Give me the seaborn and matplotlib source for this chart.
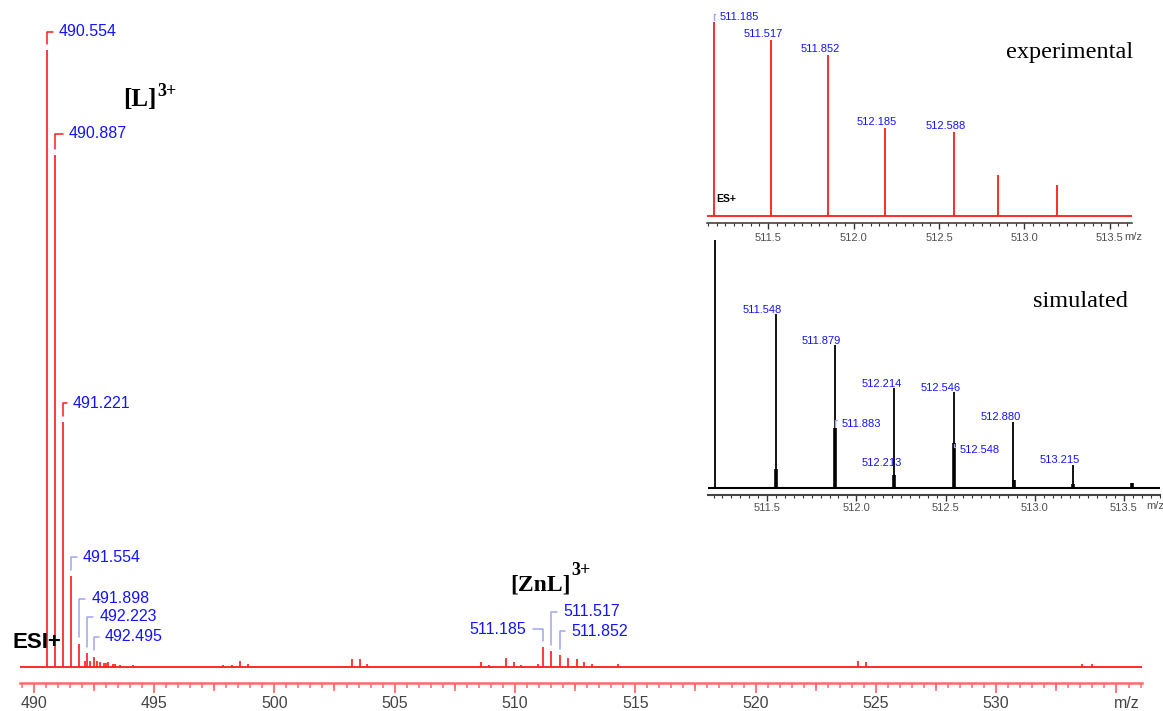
import matplotlib
matplotlib.use("Agg")
import matplotlib.pyplot as plt
from matplotlib.ticker import MultipleLocator
import seaborn as sns

W, H = 1163, 711

# ---- main ESI+ spectrum (m/z, relative intensity %) ----
main_mz = [490.554, 490.887, 491.221, 491.554, 491.898, 492.223, 492.495,
           492.13, 492.34, 492.64, 492.76, 492.92, 493.00, 493.10, 493.31,
           493.38, 493.59, 494.14, 497.88, 498.23, 498.57, 498.92,
           503.23, 503.56, 503.85, 508.58, 508.92, 509.63, 509.96, 510.25,
           510.95, 511.185, 511.517, 511.852, 512.185, 512.588, 512.85,
           513.19, 514.28, 524.25, 524.58, 533.57, 533.99]
main_int = [100, 83.0, 39.7, 14.7, 3.8, 2.3, 1.7,
            0.9, 0.9, 0.9, 0.8, 0.7, 0.7, 0.8, 0.45,
            0.45, 0.3, 0.3, 0.3, 0.3, 0.9, 0.5,
            1.3, 1.3, 0.5, 0.8, 0.3, 1.45, 0.8, 0.3,
            0.5, 3.2, 2.6, 1.9, 1.45, 1.3, 0.8,
            0.5, 0.5, 1.0, 0.8, 0.5, 0.5]
main_ticks = [490, 495, 500, 505, 510, 515, 520, 525, 530, 535]
main_ticklabels = ["490", "495", "500", "505", "510", "515", "520", "525", "530", ""]

# labelled peaks
main_labels = ["490.554", "490.887", "491.221", "491.554", "491.898", "492.223",
               "492.495", "511.185", "511.517", "511.852"]
main_label_mz = [490.554, 490.887, 491.221, 491.554, 491.898, 492.223, 492.495,
                 511.185, 511.517, 511.852]
main_label_int = [100, 83.0, 39.7, 14.7, 3.8, 2.3, 1.7, 3.2, 2.6, 1.9]
main_label_dx = [12, 14, 10, 12, 12, 12, 11, -17, 12, 12]
main_label_dy = [18, 21, 19, 19, 45, 36, 20, 18, 39, 24]

# ---- inset: experimental ----
exp_mz = [511.185, 511.517, 511.852, 512.185, 512.588, 512.845, 513.19]
exp_int = [100, 90.7, 83.0, 45.4, 43.3, 21.1, 16.0]
exp_labels = ["511.185", "511.517", "511.852", "512.185", "512.588"]

# ---- inset: simulated ----
sim_mz = [511.209, 511.548, 511.879, 512.214, 512.546, 512.880, 513.215]
sim_int = [100, 70.2, 57.7, 40.3, 38.7, 26.6, 9.3]
sim_sub_mz = [511.550, 511.883, 512.213, 512.548, 512.882, 513.217, 513.547]
sim_sub_int = [7.7, 24.2, 5.2, 18.1, 3.2, 1.5, 2.0]
sim_labels = ["511.548", "511.879", "512.214", "512.546", "512.880", "513.215"]
sim_sub_labels = ["511.883", "512.213", "512.548"]

inset_ticks = [511.5, 512.0, 512.5, 513.0, 513.5]
inset_ticklabels = ["511.5", "512.0", "512.5", "513.0", "513.5"]

RED = "#ff1a1a"
AXRED = "#ff6b6b"
BLUE = "#1414ff"
LAV = "#a0a6ee"

sns.set_theme(style="white")
plt.rcParams["font.family"] = ["Liberation Sans", "DejaVu Sans"]
plt.rcParams["text.color"] = "black"

fig = plt.figure(figsize=(W / 100, H / 100), dpi=100)


def box(l, t, r, b):
    return [l / W, 1 - b / H, (r - l) / W, (b - t) / H]


def ftext(x, y, s, **kw):
    fig.text(x / W, 1 - y / H, s, **kw)


# ================= main spectrum =================
ax = fig.add_axes(box(20, 0, 1142, 682.5))
ax.set_facecolor("none")
ax.vlines(main_mz, 0, main_int, color=RED, lw=1.2)
ax.axhline(0, color=RED, lw=1.3)
ax.set_xlim(489.43, 536.06)
ax.set_ylim(-2.51, 108.1)
sns.despine(ax=ax, left=True)
ax.spines["bottom"].set_color(AXRED)
ax.spines["bottom"].set_linewidth(1.8)
ax.set_yticks([])
ax.set_xticks(main_ticks, labels=main_ticklabels)
ax.xaxis.set_minor_locator(MultipleLocator(0.5))
ax.tick_params(axis="x", which="major", bottom=True, length=7, width=1.3,
               color=AXRED, labelsize=11.5, labelcolor="#444444", pad=3)
ax.tick_params(axis="x", which="minor", bottom=True, length=3.8, width=1.1,
               color=AXRED)
mid = ax.secondary_xaxis("bottom")
mid.set_xticks([492.5 + 5 * i for i in range(9)], labels=[""] * 9)
mid.spines["bottom"].set_visible(False)
mid.tick_params(axis="x", length=5.5, width=1.2, color=AXRED)

for i, lab in enumerate(main_labels):
    left = main_label_dx[i] > 0
    ccol = RED if i < 3 else LAV
    ax.annotate(lab, xy=(main_label_mz[i], main_label_int[i]),
                xytext=(main_label_dx[i], main_label_dy[i]),
                textcoords="offset pixels", ha="left" if left else "right",
                va="center", color=BLUE, fontsize=11.5,
                arrowprops=dict(arrowstyle="-", color=ccol, lw=1.1,
                                shrinkA=2, shrinkB=4.5,
                                relpos=(0, 0.5) if left else (1, 0.5),
                                connectionstyle="angle,angleA=0,angleB=90,rad=0"))

ftext(13, 642, "ESI+", fontsize=16, fontweight="bold", color="black",
      va="center", ha="left")
ftext(123, 106, "[L]", family="Liberation Serif", fontweight="bold",
      fontsize=18, va="baseline", ha="left", color="black")
ftext(157, 96, "3+", family="Liberation Serif", fontweight="bold",
      fontsize=13, va="baseline", ha="left", color="black")
ftext(510, 591, "[ZnL]", family="Liberation Serif", fontweight="bold",
      fontsize=17, va="baseline", ha="left", color="black")
ftext(571, 575, "3+", family="Liberation Serif", fontweight="bold",
      fontsize=13, va="baseline", ha="left", color="black")
ftext(1127, 703, "m/z", fontsize=11.5, color="#444444", ha="center", va="center")

# ================= inset: experimental =================
ax1 = fig.add_axes(box(707, 10, 1132, 223))
ax1.set_facecolor("none")
ax1.vlines(exp_mz, 0, exp_int, color=RED, lw=1.3)
ax1.axhline(0, color=RED, lw=1.3)
ax1.set_xlim(511.143, 513.629)
ax1.set_ylim(-3.61, 106.2)
sns.despine(ax=ax1, left=True)
ax1.spines["bottom"].set_color("#333333")
ax1.spines["bottom"].set_linewidth(1.1)
ax1.set_yticks([])
ax1.set_xticks(inset_ticks, labels=inset_ticklabels)
ax1.xaxis.set_minor_locator(MultipleLocator(0.05))
ax1.tick_params(axis="x", which="major", bottom=True, length=4, width=1,
                color="#333333", labelsize=8, labelcolor="#505050", pad=3)
ax1.tick_params(axis="x", which="minor", bottom=True, length=2.5, width=0.8,
                color="#333333")
for i, lab in enumerate(exp_labels):
    if i == 0:
        ax1.annotate(lab, xy=(exp_mz[i], exp_int[i]), xytext=(5, 5),
                     textcoords="offset pixels", ha="left", va="center",
                     color=BLUE, fontsize=8,
                     arrowprops=dict(arrowstyle="-", color=LAV, lw=1,
                                     shrinkA=1, shrinkB=1.5, relpos=(0, 0.85),
                                     connectionstyle="angle,angleA=0,angleB=90,rad=0"))
    else:
        ax1.annotate(lab, xy=(exp_mz[i], exp_int[i]), xytext=(-8, 6),
                     textcoords="offset pixels", ha="center", va="center",
                     color=BLUE, fontsize=8)
ftext(1133, 58, "experimental", family="Liberation Serif", fontsize=17.5,
      ha="right", va="baseline", color="black")
ftext(716, 199, "ES+", fontsize=7.5, fontweight="bold", ha="left", va="center",
      color="black")
ftext(1124, 237, "m/z", fontsize=8, color="#505050", ha="left", va="center")

# ================= inset: simulated =================
ax2 = fig.add_axes(box(708, 235, 1160, 495))
ax2.set_facecolor("none")
ax2.vlines(sim_mz, 0, sim_int, color="black", lw=1.3)
ax2.vlines(sim_sub_mz, 0, sim_sub_int, color="black", lw=2.6)
ax2.axhline(0, color="black", lw=1.5)
ax2.set_xlim(511.169, 513.702)
ax2.set_ylim(-2.82, 102.0)
sns.despine(ax=ax2, left=True)
ax2.spines["bottom"].set_color("#444444")
ax2.spines["bottom"].set_linewidth(1.5)
ax2.set_yticks([])
ax2.set_xticks(inset_ticks, labels=inset_ticklabels)
ax2.xaxis.set_minor_locator(MultipleLocator(0.05))
ax2.tick_params(axis="x", which="major", bottom=True, length=4, width=1,
                color="#333333", labelsize=8, labelcolor="#505050", pad=2)
ax2.tick_params(axis="x", which="minor", bottom=True, length=2.5, width=0.8,
                color="#333333")
sim_dy = [4, 4, 4, 4, 5, 5]
for i, lab in enumerate(sim_labels):
    ax2.annotate(lab, xy=(sim_mz[i + 1], sim_int[i + 1]), xytext=(-13, sim_dy[i]),
                 textcoords="offset pixels", ha="center", va="center",
                 color=BLUE, fontsize=8)
ax2.annotate(sim_sub_labels[1], xy=(sim_sub_mz[2], sim_sub_int[2]),
             xytext=(-13, 12), textcoords="offset pixels", ha="center",
             va="center", color=BLUE, fontsize=8)
for j, lab, dy in [(1, sim_sub_labels[0], 4), (3, sim_sub_labels[2], -7)]:
    ax2.annotate(lab, xy=(sim_sub_mz[j], sim_sub_int[j]), xytext=(6, dy),
                 textcoords="offset pixels", ha="left", va="center",
                 color=BLUE, fontsize=8,
                 arrowprops=dict(arrowstyle="-", color=LAV, lw=1,
                                 shrinkA=1, shrinkB=0.5, relpos=(0, 0.85),
                                 connectionstyle="angle,angleA=0,angleB=90,rad=0"))
ftext(1128, 307, "simulated", family="Liberation Serif", fontsize=17.5,
      ha="right", va="baseline", color="black")
ftext(1155, 506, "m/z", fontsize=8, color="#505050", ha="center", va="center")

fig.savefig("out.png", dpi=100)
